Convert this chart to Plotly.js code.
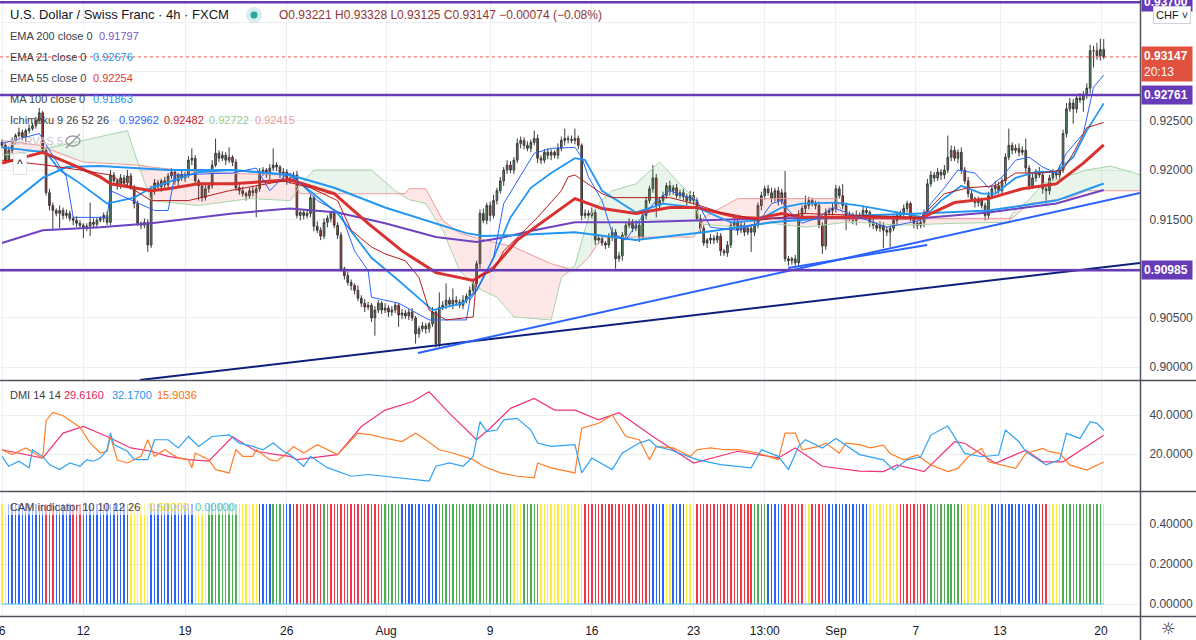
<!DOCTYPE html>
<html><head><meta charset="utf-8">
<script src="https://cdn.plot.ly/plotly-3.0.1.min.js"></script>
<style>html,body{margin:0;padding:0;background:#fff;overflow:hidden}#chart{width:1196px;height:640px}</style>
</head><body><div id="chart"></div>
<script>
// ---------- DATA (prices in pips: 9225 = 0.92250) ----------
const firstOpenPips = 9228;
const closePips = [
9225,9210,9220,9230,9235,9238,9233,9240,9242,9245,
9250,9258,9220,9177,9164,9159,9156,9159,9154,9156,
9151,9149,9146,9144,9141,9143,9147,9145,9149,9151,
9154,9147,9195,9189,9184,9192,9187,9194,9183,9166,
9146,9144,9147,9124,9179,9187,9183,9189,9185,9194,
9198,9189,9195,9192,9195,9210,9212,9189,9184,9172,
9181,9184,9205,9217,9212,9215,9210,9213,9208,9182,
9179,9176,9174,9179,9177,9181,9198,9200,9195,9202,
9205,9203,9195,9198,9189,9192,9195,9154,9157,9154,
9156,9172,9143,9139,9133,9147,9151,9156,9144,9134,
9100,9093,9086,9083,9078,9070,9065,9061,9063,9050,
9058,9065,9058,9060,9056,9058,9063,9053,9055,9052,
9056,9050,9034,9039,9042,9039,9044,9056,9024,9061,
9063,9068,9064,9068,9066,9063,9068,9072,9078,9085,
9105,9156,9149,9164,9154,9169,9179,9189,9200,9205,
9200,9210,9227,9230,9225,9222,9228,9232,9212,9210,
9218,9215,9218,9215,9222,9230,9232,9231,9230,9232,
9225,9154,9156,9154,9157,9129,9131,9126,9124,9132,
9137,9110,9113,9134,9144,9147,9141,9144,9132,9154,
9169,9181,9192,9164,9169,9174,9184,9179,9182,9174,
9177,9173,9169,9174,9169,9151,9141,9126,9129,9131,
9129,9133,9118,9116,9124,9144,9147,9139,9144,9137,
9141,9137,9144,9164,9174,9181,9177,9171,9179,9169,
9177,9110,9108,9110,9106,9154,9161,9164,9169,9166,
9164,9144,9123,9157,9159,9161,9181,9174,9164,9151,
9154,9149,9154,9154,9159,9157,9147,9144,9141,9144,
9139,9137,9141,9149,9154,9156,9161,9166,9151,9146,
9144,9147,9157,9186,9195,9192,9198,9195,9200,9213,
9220,9212,9218,9200,9189,9176,9171,9167,9169,9164,
9154,9174,9181,9184,9179,9189,9213,9225,9220,9222,
9218,9220,9202,9184,9192,9198,9195,9181,9179,9192,
9197,9195,9200,9237,9262,9268,9262,9273,9271,9276,
9283,9321,9321,9316,9322.1,9314.7
];
const wickUp = [
3,2,4,3,2,5,3,2,4,3, 4,5,2,3,4,3,2,5,3,4, 3,2,4,3,2,3,20,4,3,2, 3,4,5,3,2,4,3,6,3,2,
3,2,4,3,5,4,3,2,4,3, 4,3,2,5,3,4,10,3,2,3, 4,3,5,15,3,4,3,10,2,3, 3,4,2,3,5,3,4,3,2,4,
17,3,2,4,3,5,3,4,2,3, 4,3,2,5,3,4,3,2,4,3, 3,2,4,3,2,5,3,4,3,2, 4,3,2,5,3,4,3,2,4,3,
3,4,2,3,4,3,2,5,3,15, 4,17,3,12,4,3,5,3,4,3, 3,4,5,3,4,6,3,4,3,5, 4,3,5,4,3,4,3,8,4,3,
3,4,3,2,5,4,10,3,4,10, 3,2,4,3,5,3,4,3,2,4, 5,3,4,3,2,4,3,5,4,3, 4,3,13,4,3,4,3,5,3,4,
3,4,3,5,4,3,4,3,2,4, 3,4,3,2,4,3,5,3,4,3, 3,4,5,3,4,3,4,5,3,4, 4,22,3,2,4,5,3,10,4,3,
3,4,3,4,3,5,4,3,12,3, 4,3,5,3,4,3,2,4,3,4, 3,4,3,5,4,3,4,3,2,4, 3,4,3,5,4,3,4,3,5,22,
5,4,3,5,3,4,3,2,4,3, 3,4,3,5,4,3,4,17,3,4, 5,4,12,3,4,3,5,3,4,3, 4,3,5,4,6,5,4,3,5,4,
5,6,5,8,11,10.7
];
const wickDn = [
3,4,2,3,4,2,3,5,3,2, 3,2,4,3,5,20,3,15,4,3, 3,5,4,3,10,3,10,4,3,2, 4,3,3,5,4,3,2,4,3,5,
3,4,3,7,3,4,3,5,4,3, 3,4,5,3,4,3,5,3,15,4, 3,4,3,2,4,3,5,3,4,3, 4,3,5,3,4,25,3,4,3,5,
3,4,3,5,4,3,4,3,5,4, 3,4,5,3,4,3,5,4,3,4, 3,4,3,5,4,3,4,5,3,4, 18,3,4,3,5,4,3,12,4,3,
4,3,10,4,3,5,4,3,4,4, 3,4,3,5,4,3,4,3,5,4, 4,5,3,4,6,3,4,3,5,4, 3,4,3,5,4,3,4,3,5,4,
3,4,5,3,4,3,5,4,3,4, 4,5,3,4,3,5,4,3,4,3, 4,10,3,5,4,3,4,3,5,3, 4,3,4,12,3,4,3,5,4,3,
3,4,5,3,4,3,4,3,5,4, 4,3,5,3,4,3,4,5,3,4, 3,20,4,3,5,4,3,4,3,5, 4,3,5,4,3,4,3,5,4,3,
4,3,8,4,3,5,4,3,4,12, 3,4,5,3,4,3,5,4,3,4, 18,4,15,3,5,4,3,4,3,5, 4,3,5,4,3,4,3,5,4,3,
4,3,5,4,3,4,3,5,4,3, 5,4,3,4,3,5,4,3,4,3, 4,3,5,4,3,4,3,5,13,4, 3,4,5,3,4,3,15,4,3,12,
4,5,17,4,5,2.2
];

// moving averages (bar index, pips)
const ema200Idx = [0,12,29,44,68,85,99,113,128,140,147,157,169,187,207,227,253,271,291,311,325];
const ema200Val = [9126,9139,9142,9146,9156,9161,9157,9146,9132,9127,9131,9139,9147,9147,9149,9151,9151,9151,9157,9166,9179.7];
const ma100Idx = [0,12,19,29,49,68,85,98,113,128,137,142,152,169,187,207,227,253,271,291,311,325];
const ma100Val = [9159,9192,9203,9204,9200,9200,9195,9182,9162,9146,9136,9133,9134,9137,9129,9137,9147,9154,9156,9159,9169,9186.3];
const ema21Idx = [0,13,17,22,31,39,44,58,68,85,99,109,117,127,136,140,145,150,156,162,169,172,177,187,195,205,215,223,230,236,246,253,264,272,277,283,289,293,299,305,311,316,320,325];
const ema21Val = [9223,9218,9200,9189,9166,9172,9182,9198,9200,9195,9156,9111,9088,9058,9065,9078,9111,9152,9182,9197,9212,9210,9179,9157,9166,9162,9147,9149,9162,9166,9167,9164,9157,9152,9169,9184,9176,9176,9192,9198,9198,9213,9240,9267.6];
const ema55Idx = [0,12,19,29,32,44,49,58,68,85,98,108,118,128,139,145,152,160,169,177,187,197,205,217,223,230,236,253,271,281,291,301,311,319,325];
const ema55Val = [9207,9218,9208,9193,9186,9179,9181,9186,9186,9190,9176,9146,9118,9096,9088,9101,9129,9149,9171,9161,9156,9162,9162,9152,9151,9156,9152,9152,9151,9167,9171,9181,9186,9207,9225.4];

// Ichimoku
const tenkanIdx = [0,11,14,19,21,31,32,45,49,51,68,75,79,83,85,93,100,104,108,109,117,126,137,138,140,145,148,152,157,162,169,171,173,177,180,184,188,193,197,205,209,217,223,227,230,232,236,241,245,261,271,274,278,282,287,291,295,299,303,307,311,314,319,322,325];
const tenkanVal = [9227,9237,9220,9193,9152,9152,9179,9159,9159,9195,9197,9202,9179,9193,9197,9169,9156,9118,9098,9071,9065,9048,9048,9068,9078,9111,9166,9189,9217,9222,9223,9213,9193,9169,9136,9129,9149,9169,9179,9169,9142,9139,9146,9166,9169,9159,9146,9152,9162,9142,9149,9166,9182,9200,9197,9182,9193,9210,9213,9203,9197,9217,9237,9284,9296.2];
const kijunIdx = [0,13,23,32,44,55,67,83,91,99,103,109,113,119,123,126,131,139,140,145,148,154,158,165,167,169,177,180,197,204,212,217,223,230,236,253,271,278,285,293,299,307,313,316,320,325];
const kijunVal = [9210,9205,9200,9195,9169,9169,9179,9189,9182,9169,9139,9122,9115,9108,9091,9058,9048,9051,9091,9098,9118,9139,9152,9179,9193,9195,9176,9172,9172,9166,9157,9154,9149,9152,9156,9154,9152,9176,9182,9184,9197,9197,9200,9217,9243,9248.2];
const cloudIdx = [0,11,24,34,37,40,44,58,73,85,88,92,109,116,119,120,125,130,135,140,146,151,162,165,169,173,177,180,187,194,200,204,206,207,217,227,237,246,249,253,265,281,297,298,303,307,315,320,327,336];
const spanA = [9215,9220,9230,9238,9240,9208,9169,9164,9171,9169,9185,9200,9200,9179,9172,9170,9166,9139,9098,9081,9071,9051,9048,9091,9103,9152,9170,9179,9186,9208,9186,9172,9146,9145,9142,9146,9142,9146,9147,9147,9144,9146,9147,9156,9170,9186,9195,9200,9204,9195];
const spanB = [9230,9225,9208,9206,9206,9205,9203,9198,9196,9195,9176,9176,9176,9176,9176,9181,9181,9149,9136,9131,9126,9122,9105,9102,9098,9111,9132,9132,9132,9132,9132,9132,9140,9152,9171,9171,9171,9171,9149,9151,9151,9151,9151,9151,9166,9168,9172,9179,9179,9179];

// drawings (bar index, price)
const levels = [0.93700, 0.92761, 0.90985];
const lastPrice = 0.93147;
const navyLineIdx = [40.7, 335.7], navyLineVal = [0.89871, 0.91057];
const blueLineIdx = [122.7, 335.7], blueLineVal = [0.90145, 0.91767];
const shortLineIdx = [231.9, 272.9], shortLineVal = [0.91007, 0.91240];

// DMI
const adxIdx = [0,5,12,18,24,31,38,44,49,55,61,68,75,81,85,87,99,106,113,121,126,132,140,144,150,157,163,169,176,182,192,204,217,229,234,242,253,260,264,272,281,284,293,302,307,313,320,325];
const adxVal = [22.2,20.5,17.9,30.7,34.1,29.0,23.1,21.4,18.8,17.1,16.3,28.8,21.4,19.7,18.8,17.1,19.7,34.1,42.5,46.8,51.9,40.8,27.3,33.2,43.4,48.5,42.5,42.5,37.5,41.2,29.0,15.4,21.4,18.0,23.1,13.7,11.2,11.0,14.4,11.0,26.3,25.5,15.2,22.0,16.0,16.0,23.8,29.616];
const pdiIdx = [0,2,5,8,9,12,14,17,20,23,25,27,29,31,32,33,37,39,43,45,49,52,55,58,62,67,70,74,77,80,83,85,89,91,96,103,108,113,118,126,128,132,136,139,141,143,146,148,152,156,158,162,169,171,174,180,183,188,191,193,197,205,212,221,224,229,232,235,237,242,246,253,260,263,267,271,274,279,284,289,294,296,300,302,308,312,314,318,321,323,325];
const pdiVal = [18.8,13.7,16.3,12.9,22.2,18.8,14.6,12.0,15.4,13.7,17.1,16.3,17.9,22.2,30.7,24.8,21.4,17.1,17.1,27.3,27.3,23.1,29.0,23.9,29.0,29.8,25.6,23.9,22.2,25.6,21.4,19.7,13.7,18.8,13.0,8.6,9.5,8.6,7.8,6.1,13.7,15.4,13.7,18.8,36.6,31.5,32.3,37.5,38.3,32.3,25.6,23.9,24.8,10.3,17.9,12.0,20.5,25.6,27.3,23.9,22.2,17.1,14.6,12.9,22.2,18.8,12.0,23.9,27.3,23.1,28.0,19.7,17.0,11.8,17.0,18.6,29.7,34.4,20.3,18.6,19.5,32.3,26.3,21.2,14.4,17.0,30.6,28.0,36.6,35.7,32.17];
const mdiIdx = [0,3,7,12,13,15,18,20,23,26,29,31,32,34,37,41,43,45,48,52,55,56,57,61,63,67,69,71,74,75,79,81,83,85,86,89,93,99,105,109,113,118,122,125,129,133,139,142,147,152,157,158,162,169,171,176,180,184,188,191,193,198,203,205,209,213,217,223,229,231,234,236,241,243,247,249,253,256,260,262,266,270,274,279,282,285,289,291,295,299,302,307,309,312,315,320,325];
const mdiVal = [22.2,19.7,23.1,18.0,37.1,41.3,39.6,37.1,33.7,25.6,20.5,21.4,29.0,16.9,15.4,18.8,27.3,18.8,22.2,18.0,17.1,12.9,20.5,17.1,12.0,10.3,22.2,18.8,18.8,22.2,17.1,16.3,18.8,22.2,23.9,20.5,24.8,19.7,30.7,29.8,28.1,26.4,30.7,27.3,22.2,20.5,17.1,13.7,10.3,8.6,7.8,15.4,12.9,10.3,33.2,35.8,40.0,29.0,27.3,17.1,23.9,23.1,18.8,22.2,23.1,22.2,22.2,20.5,17.1,30.7,30.7,22.2,23.9,25.6,20.5,25.6,24.8,23.2,24.6,20.3,17.0,19.5,14.4,11.0,12.6,18.6,22.9,16.0,14.4,12.6,20.3,22.9,21.2,20.3,14.4,11.8,15.9036];

// CAM indicator: colour runs (value 0.5 for every bar)
const camValue = 0.5;
const camColor = ['y','b','r','b','r','b','y','b','y','g','y','b','g','b','r','g','r','g','b','g','y','g','y','r','b','y','b','y','r','g','b','r','y','r','b','y','r','g','y','b','r','y','g','y'];
const camRun   = [ 2, 11,  3,  5,  4, 13,  6, 13,  4,  9,  6,  4,  4,  3,  8,  2, 15,  6, 11, 22,  3,  5, 13, 20,  4,  2,  4,  3, 17,  4,  4,  7,  2,  5, 12,  9,  8, 11,  8, 14,  3,  4, 12,  1];

// axis labels
const xTickIdx  = [0,24,54,84,113.3,144,174,204,225,246,269.6,294.4,324.2];
const xTickText = ['6','12','19','26','Aug','9','16','23','13:00','Sep','7','13','20'];
const priceTicks = [0.900,0.905,0.910,0.915,0.920,0.925,0.930,0.935];
const priceTickText = ['0.90000','0.90500','','0.91500','0.92000','0.92500','',''];

// ---------- BUILD ----------
const FONT = 'Liberation Sans, Arial, sans-serif';
const PW = 1140, PH = 616;
const P = v => v / 10000;
const n = closePips.length;
const barIdx = closePips.map((_, i) => i);
const O = [], Hh = [], L = [], C = [];
for (let i = 0; i < n; i++) {
  const o = i === 0 ? firstOpenPips : closePips[i - 1];
  const c = closePips[i];
  O.push(P(o)); C.push(P(c));
  Hh.push(P(Math.max(o, c) + wickUp[i]));
  L.push(P(Math.min(o, c) - wickDn[i]));
}
const cloudMax = spanA.map((a, k) => Math.max(a, spanB[k]));
const cloudMin = spanA.map((a, k) => Math.min(a, spanB[k]));
const camCols = {g:'#4caf50', r:'#f23645', b:'#2962ff', y:'#ffeb3b'};
const camC = [];
camColor.forEach((c, k) => { for (let j = 0; j < camRun[k]; j++) camC.push(camCols[c]); });

const line = (x, y, color, width, yaxis, extra) => Object.assign({type:'scatter', mode:'lines', x, y, yaxis: yaxis || 'y', line:{color, width}, hoverinfo:'skip'}, extra || {});

const traces = [
  line(cloudIdx, spanB.map(P), 'rgba(0,0,0,0)', 0),
  line(cloudIdx, cloudMax.map(P), 'rgba(0,0,0,0)', 0, 'y', {fill:'tonexty', fillcolor:'rgba(76,175,80,0.12)'}),
  line(cloudIdx, spanB.map(P), 'rgba(0,0,0,0)', 0),
  line(cloudIdx, cloudMin.map(P), 'rgba(0,0,0,0)', 0, 'y', {fill:'tonexty', fillcolor:'rgba(244,67,54,0.12)'}),
  line(cloudIdx, spanA.map(P), '#a5d6a7', 1),
  line(cloudIdx, spanB.map(P), '#ef9a9a', 1),
  {type:'candlestick', x: barIdx, open:O, high:Hh, low:L, close:C, yaxis:'y', hoverinfo:'skip',
   increasing:{line:{color:'#3b3b3b', width:1}, fillcolor:'#4e9461'},
   decreasing:{line:{color:'#3b3b3b', width:1}, fillcolor:'#b8322a'}, whiskerwidth:0},
  line(ema200Idx, ema200Val.map(P), '#6f42c1', 2),
  line(ma100Idx, ma100Val.map(P), '#2196f3', 2),
  line(ema21Idx, ema21Val.map(P), '#2196f3', 1.8),
  line(ema55Idx, ema55Val.map(P), '#d93030', 3),
  line(tenkanIdx, tenkanVal.map(P), '#2962ff', 1),
  line(kijunIdx, kijunVal.map(P), '#b71c1c', 1),
  line(navyLineIdx, navyLineVal, '#0d1f7a', 2),
  line(blueLineIdx, blueLineVal, '#2962ff', 2),
  line(shortLineIdx, shortLineVal, '#2962ff', 2),
  line(adxIdx, adxVal, '#f0337a', 1.2, 'y2'),
  line(mdiIdx, mdiVal, '#ff7f27', 1.2, 'y2'),
  line(pdiIdx, pdiVal, '#2fa3f5', 1.2, 'y2'),
  {type:'bar', x: barIdx, y: barIdx.map(() => camValue), yaxis:'y3', width:0.42, marker:{color:camC, line:{width:0}}, hoverinfo:'skip'},
  line([0, n - 1], [0, 0], '#4fc3f7', 1, 'y3')
];

const ann = [];
function txt(x, y, t, color, size, extra) {
  ann.push(Object.assign({xref:'paper', yref:'paper', x: x / PW, y: (PH - y) / PH, xanchor:'left', yanchor:'middle',
    text: t, showarrow:false, font:{family:FONT, size: size || 12, color}}, extra || {}));
}
const LS = 11, LC = '#3a3e4a';
txt(8, 15, 'U.S. Dollar / Swiss Franc · 4h · FXCM', '#131722', 13);
txt(277, 15, 'O0.93221 H0.93328 L0.93125 C0.93147 −0.00074 (−0.08%)', '#8f3535', 12);
txt(8, 36, 'EMA 200 close 0', LC, LS); txt(97, 36, '0.91797', '#7e57c2', LS);
txt(8, 57, 'EMA 21 close 0', LC, LS);  txt(91, 57, '0.92676', '#2196f3', LS);
txt(8, 78, 'EMA 55 close 0', LC, LS);  txt(91, 78, '0.92254', '#e53935', LS);
txt(8, 99, 'MA 100 close 0', LC, LS);  txt(91, 99, '0.91863', '#2196f3', LS);
txt(8, 120, 'Ichimoku 9 26 52 26', LC, LS);
txt(117, 120, '0.92962', '#2962ff', LS); txt(162, 120, '0.92482', '#c62828', LS);
txt(207, 120, '0.92722', '#8fce92', LS); txt(253, 120, '0.92415', '#ef9a9a', LS);
txt(8, 141, 'BARVAS 5', '#c9c2c6', LS);
txt(13, 164, '^', '#131722', 12, {bgcolor:'#ffffff', bordercolor:'#e0e3eb', borderwidth:1, borderpad:3});
txt(8, 395, 'DMI 14 14', LC, LS);
txt(62, 395, '29.6160', '#e91e63', LS); txt(110, 395, '32.1700', '#2196f3', LS); txt(155, 395, '15.9036', '#ff6d00', LS);
txt(8, 507, 'CAM indicator 10 10 12 26', LC, LS);
txt(147, 507, '0.50000', '#f0dc00', LS); txt(193, 507, '0.00000', '#4fc3f7', LS);

function box(yref, y, text, bg) {
  ann.push({xref:'paper', yref, x:1, y, xanchor:'left', yanchor:'middle', xshift:1, text, showarrow:false,
    bgcolor:bg, borderpad:2, width:46, align:'left', font:{family:FONT, size:12, color:'#ffffff'}});
}
box('y', levels[0], '<b>0.93700</b>', '#673ab7');
box('y', levels[1], '<b>0.92761</b>', '#673ab7');
box('y', levels[2], '<b>0.90985</b>', '#673ab7');
box('paper', (PH - 63.5) / PH, '<b>0.93147</b><br>20:13', '#e0513f');
ann.push({xref:'paper', yref:'paper', x: 1153 / PW, y: (PH - 15) / PH, xanchor:'left', yanchor:'middle', text:'CHF ˅', showarrow:false,
  bgcolor:'#ffffff', bordercolor:'#d1d4dc', borderwidth:1, borderpad:2, font:{family:FONT, size:11, color:'#131722'}});
ann.push({xref:'paper', yref:'paper', x: 1168 / PW, y: -12 / PH, xanchor:'center', yanchor:'middle', text:'☼', showarrow:false,
  font:{family:'DejaVu Sans', size:16, color:'#131722'}});

const px = x => x / PW, py = y => (PH - y) / PH;
const shapes = [
  {type:'rect', xref:'paper', yref:'paper', x0:px(3), x1:px(133), y0:py(91), y1:py(26), fillcolor:'rgba(255,255,255,0.85)', line:{width:0}, layer:'above'},
  {type:'rect', xref:'paper', yref:'paper', x0:px(4), x1:px(237), y0:py(515), y1:py(499), fillcolor:'rgba(255,255,255,0.6)', line:{width:0}, layer:'above'},
  {type:'circle', xref:'paper', yref:'paper', x0:px(246), x1:px(262), y0:py(23), y1:py(7), fillcolor:'rgba(38,166,154,0.18)', line:{width:0}, layer:'above'},
  {type:'circle', xref:'paper', yref:'paper', x0:px(250.5), x1:px(257.5), y0:py(18.5), y1:py(11.5), fillcolor:'#26a69a', line:{width:0}, layer:'above'},
  {type:'circle', xref:'paper', yref:'paper', x0:px(66), x1:px(80), y0:py(146), y1:py(136), line:{color:'#9598a1', width:1.3}, layer:'above'},
  {type:'line', xref:'paper', yref:'paper', x0:px(66), x1:px(80), y0:py(148), y1:py(134), line:{color:'#9598a1', width:1.3}, layer:'above'},
  {type:'line', xref:'paper', yref:'y', x0:0, x1:1, y0:lastPrice, y1:lastPrice, line:{color:'#ef5350', width:1, dash:'dot'}, layer:'above'},
  ...levels.map(v => ({type:'line', xref:'paper', yref:'y', x0:0, x1:1, y0:v, y1:v, line:{color:'#673ab7', width:2.5}, layer:'above'})),
  {type:'line', xref:'paper', yref:'paper', x0:0, x1:1196 / PW, y0:py(380.5), y1:py(380.5), line:{color:'#50535e', width:1.5}, layer:'above'},
  {type:'line', xref:'paper', yref:'paper', x0:0, x1:1196 / PW, y0:py(491.5), y1:py(491.5), line:{color:'#50535e', width:1.5}, layer:'above'},
  {type:'line', xref:'paper', yref:'paper', x0:0, x1:1196 / PW, y0:py(616.5), y1:py(616.5), line:{color:'#50535e', width:1.5}, layer:'above'},
  {type:'line', xref:'paper', yref:'paper', x0:px(1140.5), x1:px(1140.5), y0:py(0), y1:py(640), line:{color:'#50535e', width:1.5}, layer:'above'}
];

const gridc = '#eceef2';
const yax = (domain, range, tickvals, ticktext) => ({domain, range, tickvals, ticktext, side:'right', anchor:'x', showgrid:true, gridcolor:gridc,
  zeroline:false, showline:false, ticks:'outside', ticklen:6, tickcolor:'rgba(0,0,0,0)', fixedrange:true,
  tickfont:{family:FONT, size:12, color:'#434651'}});

const layout = {
  width:1196, height:640, margin:{l:0, r:56, t:0, b:24}, paper_bgcolor:'#ffffff', plot_bgcolor:'#ffffff',
  showlegend:false, hovermode:false, bargap:0,
  xaxis:{range:[-0.59, 335.7], anchor:'y3', tickvals:xTickIdx, ticktext:xTickText, showgrid:true, gridcolor:gridc,
    zeroline:false, showline:false, ticks:'outside', ticklen:4, tickcolor:'rgba(0,0,0,0)', rangeslider:{visible:false},
    ticklabeloverflow:'allow', tickfont:{family:FONT, size:12, color:'#131722'}, fixedrange:true},
  yaxis: yax([1 - 380 / PH, 1], [0.89871, 0.93724], priceTicks, priceTickText),
  yaxis2: yax([(PH - 491) / PH, (PH - 381) / PH], [1.03, 57.44], [20, 40], ['20.0000', '40.0000']),
  yaxis3: yax([0, (PH - 492) / PH], [-0.06, 0.56], [0, 0.2, 0.4], ['0.00000', '0.20000', '0.40000']),
  annotations: ann, shapes
};
Plotly.newPlot('chart', traces, layout, {staticPlot:true, displayModeBar:false});
</script></body></html>
